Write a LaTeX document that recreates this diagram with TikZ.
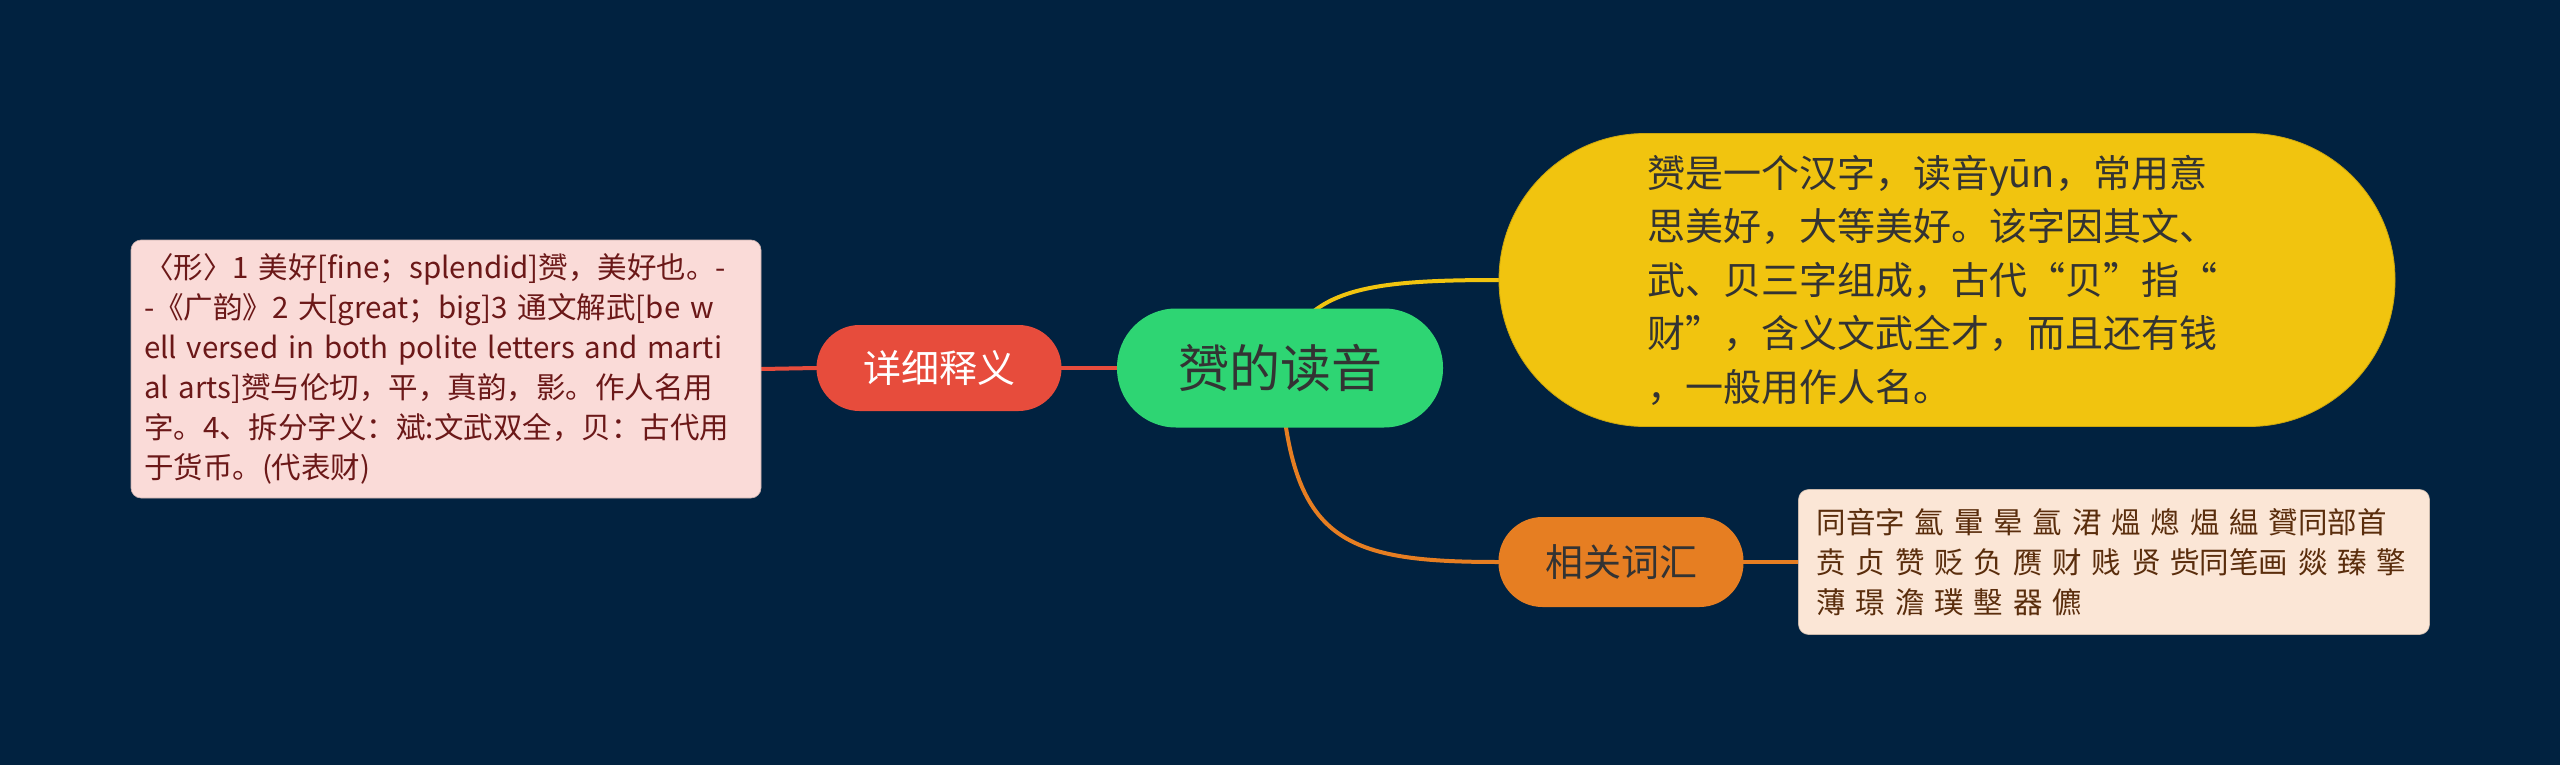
\documentclass[tikz,border=0pt]{standalone}
\usepackage{fontspec}
\setmainfont{Noto Sans CJK SC}[WordSpace=1.4]
\usetikzlibrary{backgrounds}
\definecolor{bgnavy}{HTML}{012240}
\definecolor{cgreen}{HTML}{2ED573}
\definecolor{cyellow}{HTML}{F1C40F}
\definecolor{cred}{HTML}{E74C3C}
\definecolor{corange}{HTML}{E67E22}
\definecolor{cpink}{HTML}{FADBD8}
\definecolor{cpeach}{HTML}{FBE6D6}
\definecolor{darktext}{HTML}{333333}
\definecolor{pinktext}{HTML}{6B1818}
\definecolor{peachtext}{HTML}{5A2D0C}
\tikzset{
  pill/.style={rectangle, inner sep=0pt, align=center},
  leafbox/.style={rectangle, rounded corners=10pt, inner ysep=0pt, align=left},
  link/.style={line width=4pt, line cap=round},
}
\begin{document}
\begin{tikzpicture}[x=1pt,y=-1pt]
\useasboundingbox (0,0) rectangle (2560,765);

% central topic
\node[pill, fill=cgreen, minimum width=326pt, minimum height=119pt, rounded corners=59pt,
      text=darktext, font=\fontsize{51}{60}\selectfont] (c) at (1280,368) {赟的读音};

% yellow description
\node[pill, fill=cyellow, draw=cyellow!85!black, line width=0.8pt, minimum width=896pt, minimum height=293pt,
      rounded corners=146pt, text=darktext, align=left,
      font=\fontsize{38}{53.5}\selectfont] (y) at (1947,280)
  {赟是一个汉字，读音yūn，常用意\\思美好，大等美好。该字因其文、\rule{30pt}{0pt}\\武、贝三字组成，古代“贝”指“\\财”，含义文武全才，而且还有钱\\，一般用作人名。};

% red branch
\node[pill, fill=cred, minimum width=245pt, minimum height=86pt, rounded corners=43pt,
      text=white, font=\fontsize{38}{44}\selectfont] (r) at (939,368) {详细释义};

% pink detail
\node[leafbox, fill=cpink, draw=cpink!80!black, line width=0.6pt, inner xsep=13pt, text width=604pt,
      minimum height=258pt, text=pinktext, font=\fontsize{29.5}{40}\selectfont] (p) at (446,369)
  {〈形〉1 美好[fine；splendid]赟，美好也。-\\-《广韵》2 大[great；big]3 通文解武[be w\\ell versed in both polite letters and marti\\al arts]赟与伦切，平，真韵，影。作人名用\\字。4、拆分字义：斌:文武双全，贝：古代用\\于货币。(代表财)};

% orange branch
\node[pill, fill=corange, minimum width=245pt, minimum height=90pt, rounded corners=44pt,
      text=darktext, font=\fontsize{38}{44}\selectfont] (o) at (1621,562) {相关词汇};

% peach detail
\node[leafbox, fill=cpeach, draw=cpeach!80!black, line width=0.6pt, inner xsep=18pt, text width=595pt,
      minimum height=145pt, text=peachtext, font=\fontsize{29.5}{40}\selectfont] (k) at (2114,562)
  {同音字 氳 暈 晕 氲 涒 熅 熜 煴 緼 贇同部首\\贲 贞 赞 贬 负 赝 财 贱 贤 赀同笔画 燚 臻 擎\\薄 璟 澹 璞 墼 器 儦};

\begin{scope}[on background layer]
  \fill[bgnavy] (0,0) rectangle (2560,765);
  \draw[link, cyellow] (c.center) .. controls +(20,-78) and +(-139,0) .. (y.west);
  \draw[link, corange] (c.center) .. controls +(10,172) and +(-159,0) .. (o.west);
  \draw[link, cred] (p.east) -- (r.west);
  \draw[link, cred] (r.east) -- (c.west);
  \draw[link, corange] (o.east) -- (k.west);
\end{scope}
\end{tikzpicture}
\end{document}
